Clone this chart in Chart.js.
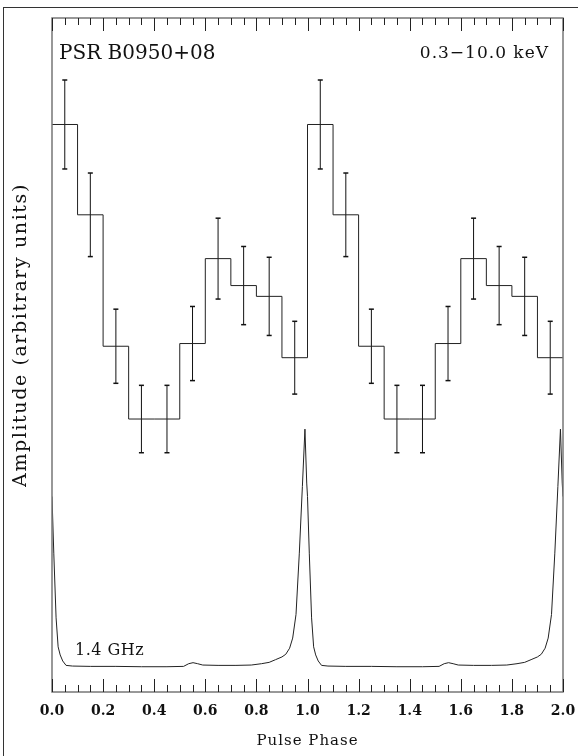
<!DOCTYPE html>
<html>
<head>
<meta charset="utf-8">
<script src="https://cdn.jsdelivr.net/npm/chart.js@4.4.1/dist/chart.umd.min.js"></script>
<style>
html,body{margin:0;padding:0;background:#fff;}
canvas{display:block;}
</style>
</head>
<body>
<canvas id="c" width="578" height="756"></canvas>
<script>
// ---- X-ray light curve (0.3-10 keV), two cycles, bin left edges ----
const xrayBinEdges = [0.0,0.1,0.2,0.3,0.4,0.5,0.6,0.7,0.8,0.9,1.0,1.1,1.2,1.3,1.4,1.5,1.6,1.7,1.8,1.9,2.0];
const xrayValues   = [84.2,70.8,51.3,40.5,40.5,51.7,64.3,60.3,58.7,49.6,
                      84.2,70.8,51.3,40.5,40.5,51.7,64.3,60.3,58.7,49.6];
const xrayErrors   = [6.6,6.2,5.5,5.0,5.0,5.5,6.0,5.8,5.8,5.4,
                      6.6,6.2,5.5,5.0,5.0,5.5,6.0,5.8,5.8,5.4];

// ---- 1.4 GHz radio profile ----
const radioPhase = [
  0.000,0.007,0.016,0.024,0.032,0.042,0.055,0.080,0.150,0.250,0.350,0.450,0.515,0.535,0.552,0.570,0.590,0.650,0.720,0.780,0.820,0.850,0.875,0.900,0.915,0.930,0.942,0.955,0.968,0.980,0.990,0.997,
  1.000,1.007,1.016,1.024,1.032,1.042,1.055,1.080,1.150,1.250,1.350,1.450,1.515,1.535,1.552,1.570,1.590,1.650,1.720,1.780,1.820,1.850,1.875,1.900,1.915,1.930,1.942,1.955,1.968,1.980,1.990,1.997,2.000];
const radioAmp = [
  29.0,20.6,11.0,6.7,5.5,4.6,3.95,3.85,3.8,3.8,3.75,3.75,3.8,4.2,4.35,4.2,4.0,3.95,3.95,4.0,4.2,4.4,4.8,5.2,5.6,6.5,8.0,11.5,20.6,30.5,39.0,31.0,
  29.0,20.6,11.0,6.7,5.5,4.6,3.95,3.85,3.8,3.8,3.75,3.75,3.8,4.2,4.35,4.2,4.0,3.95,3.95,4.0,4.2,4.4,4.8,5.2,5.6,6.5,8.0,11.5,20.6,30.5,39.0,31.0,29.0];

// ---- axis ticks / texts ----
const xTickValues = [0.0,0.2,0.4,0.6,0.8,1.0,1.2,1.4,1.6,1.8,2.0];
const xTickLabels = ['0.0','0.2','0.4','0.6','0.8','1.0','1.2','1.4','1.6','1.8','2.0'];
const xTitle = 'Pulse Phase';
const yTitle = 'Amplitude (arbitrary units)';
const sourceLabel = 'PSR B0950+08';
const bandLabel = '0.3\u221210.0 keV';
const radioLabel = '1.4 GHz';

// build datasets from arrays
const histData = xrayBinEdges.map((e, i) => ({x: e, y: xrayValues[Math.min(i, xrayValues.length - 1)]}));
const errData = [];
xrayValues.forEach((v, i) => {
  const c = (xrayBinEdges[i] + xrayBinEdges[i + 1]) / 2;
  errData.push({x: c, y: v - xrayErrors[i]});
  errData.push({x: c, y: v + xrayErrors[i]});
  errData.push({x: c, y: null});
});
const radioData = radioPhase.map((p, i) => ({x: p, y: radioAmp[i]}));

const SERIF = '"DejaVu Serif", "Liberation Serif", serif';

const decor = {
  id: 'decor',
  afterDraw(chart) {
    const ctx = chart.ctx;
    const a = chart.chartArea;
    const xs = chart.scales.x;
    ctx.save();
    // outer figure frame
    ctx.strokeStyle = '#333';
    ctx.lineWidth = 1;
    ctx.strokeRect(3.5, 7.5, 700, 800);
    // plot box
    ctx.strokeStyle = '#777';
    ctx.lineWidth = 1.5;
    ctx.strokeRect(a.left, a.top, a.right - a.left, a.bottom - a.top);
    // inward ticks top & bottom
    ctx.strokeStyle = '#222';
    ctx.lineWidth = 1;
    for (let i = 0; i <= 40; i++) {
      const v = i * 0.05;
      const px = Math.round(xs.getPixelForValue(v)) + 0.5;
      const len = (i % 4 === 0) ? 13 : 7;
      ctx.beginPath();
      ctx.moveTo(px, a.bottom); ctx.lineTo(px, a.bottom - len);
      ctx.moveTo(px, a.top); ctx.lineTo(px, a.top + len);
      ctx.stroke();
    }
    // texts
    ctx.fillStyle = '#111';
    ctx.textBaseline = 'middle';
    ctx.font = '20px ' + SERIF;
    ctx.textAlign = 'left';
    ctx.fillText(sourceLabel, 59, 54);
    ctx.font = '17px ' + SERIF;
    ctx.letterSpacing = '1px';
    ctx.textAlign = 'right';
    ctx.fillText(bandLabel, 549, 54);
    ctx.letterSpacing = '0.5px';
    ctx.font = '16px ' + SERIF;
    ctx.textAlign = 'left';
    ctx.fillText(radioLabel, 75, 651);
    // x title
    ctx.font = '15px ' + SERIF;
    ctx.letterSpacing = '1px';
    ctx.textAlign = 'center';
    ctx.fillText(xTitle, (a.left + a.right) / 2, 741);
    // y title
    ctx.translate(21, (a.top + a.bottom) / 2 - 20);
    ctx.rotate(-Math.PI / 2);
    ctx.font = '19px ' + SERIF;
    ctx.letterSpacing = '1.6px';
    ctx.fillText(yTitle, 0, 0);
    ctx.restore();
  }
};

new Chart(document.getElementById('c'), {
  type: 'scatter',
  data: {
    datasets: [
      {
        label: 'X-ray',
        data: histData,
        showLine: true,
        stepped: 'before',
        borderColor: '#222',
        borderWidth: 1,
        pointRadius: 0,
        fill: false
      },
      {
        label: 'X-ray errors',
        data: errData,
        showLine: true,
        spanGaps: false,
        borderColor: '#111',
        borderWidth: 1,
        pointStyle: 'line',
        pointRadius: 2.5,
        pointBorderColor: '#111',
        pointBorderWidth: 1.5,
        fill: false
      },
      {
        label: '1.4 GHz',
        data: radioData,
        showLine: true,
        borderColor: '#222',
        borderWidth: 1,
        pointRadius: 0,
        tension: 0,
        fill: false
      }
    ]
  },
  options: {
    responsive: false,
    animation: false,
    layout: {padding: {top: 18, right: 15, left: 0, bottom: 0}},
    plugins: {legend: {display: false}, tooltip: {enabled: false}},
    scales: {
      x: {
        type: 'linear',
        position: 'bottom',
        min: 0, max: 2,
        grid: {display: false, drawTicks: false},
        border: {display: false},
        afterBuildTicks: (s) => { s.ticks = xTickValues.map(v => ({value: v})); },
        afterFit: (s) => { s.height = 64; s.paddingLeft = 0; s.paddingRight = 0; },
        ticks: {
          autoSkip: false,
          maxRotation: 0,
          padding: 11,
          color: '#111',
          font: {family: SERIF, size: 14, weight: 'bold'},
          callback: (v, i) => xTickLabels[i]
        }
      },
      y: {
        type: 'linear',
        min: 0, max: 100,
        grid: {display: false, drawTicks: false},
        border: {display: false},
        ticks: {display: false},
        afterFit: (s) => { s.width = 52; s.paddingTop = 0; s.paddingBottom = 0; }
      }
    }
  },
  plugins: [decor]
});
</script>
</body>
</html>
